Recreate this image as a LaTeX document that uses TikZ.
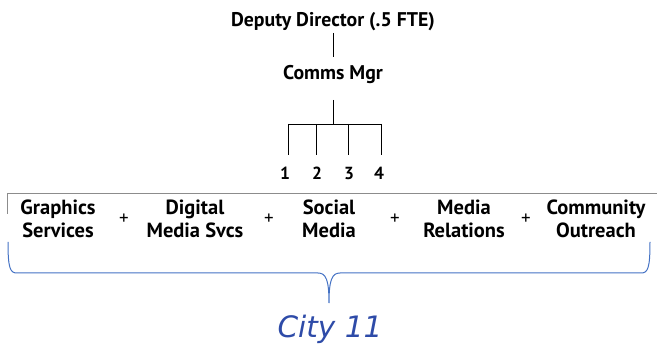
\documentclass[tikz,border=0pt]{standalone}
\usepackage{fontspec}
\setmainfont{PT Sans}
\newfontfamily\cityfont{DejaVu Sans}
\definecolor{bracecol}{HTML}{4472C4}
\definecolor{citycol}{HTML}{2E4BA8}
\begin{document}
\begin{tikzpicture}[x=1pt,y=1pt,
  lbl/.style={font=\bfseries\fontsize{19.8}{23}\selectfont, inner sep=0pt, align=center, anchor=base},
  row/.style={font=\bfseries\fontsize{20.5}{23}\selectfont, inner sep=0pt, align=center, anchor=base},
  num/.style={font=\bfseries\fontsize{17.5}{19}\selectfont, inner sep=0pt, anchor=base},
  plus/.style={font=\fontsize{19}{20}\selectfont, inner sep=0pt},
  conn/.style={draw=black, line width=0.9pt}]
\useasboundingbox (0,0) rectangle (657,-344);
\node[lbl] (dd) at (333,-27) {Deputy Director (.5 FTE)};
\node[lbl] (cm) at (333,-80) {Comms Mgr};
\coordinate (ddb) at (333,-33);
\coordinate (cmt) at (333,-57);
\draw[conn] (ddb) -- (cmt);
\coordinate (cmb) at (333,-100);
\coordinate (bus) at (333,-124);
\draw[conn] (cmb) -- (bus);
\node[num] (n1) at (285,-179.5) {1};
\node[num] (n2) at (317,-179.5) {2};
\node[num] (n3) at (349,-179.5) {3};
\node[num] (n4) at (379,-179.5) {4};
\coordinate (b1) at (288,-124);
\coordinate (b2) at (316,-124);
\coordinate (b3) at (348,-124);
\coordinate (b4) at (381,-124);
\draw[conn] (b1) -- (b4);
\draw[conn] (b1) -- (288,-155);
\draw[conn] (b2) -- (316,-155);
\draw[conn] (b3) -- (348,-155);
\draw[conn] (b4) -- (381,-155);
% gray line
\coordinate (gl) at (7,-214);
\coordinate (gt) at (7,-193);
\coordinate (gr) at (657,-193);
\draw[gray!90, line width=0.9pt] (gl) -- (gt) -- (gr);
% row
\node[row] (g) at (58,-238) {Graphics\\Services};
\node[plus] (p1) at (124,-219.5) {+};
\node[row] (d) at (195,-238) {Digital\\Media Svcs};
\node[plus] (p2) at (269,-219.5) {+};
\node[row] (s) at (329,-238) {Social\\Media};
\node[plus] (p3) at (395,-219.5) {+};
\node[row] (m) at (464,-238) {Media\\Relations};
\node[plus] (p4) at (526,-219.5) {+};
\node[row] (c) at (596,-238) {Community\\Outreach};
% brace
\coordinate (bl) at (8,-242);
\coordinate (tip) at (329,-303);
\coordinate (br) at (650,-242);
\draw[bracecol, line width=1pt]
  (bl) .. controls (8,-268) and (10,-273) .. (17,-273) -- (318,-273)
  .. controls (326,-273) and (329,-280) .. (tip)
  .. controls (329,-280) and (332,-273) .. (340,-273) -- (641,-273)
  .. controls (648,-273) and (650,-268) .. (br);
\node[font=\cityfont\itshape\fontsize{29.5}{32}\selectfont, text=citycol, inner sep=0pt, anchor=base] (city) at (330,-338) {City 11};
\end{tikzpicture}
\end{document}
